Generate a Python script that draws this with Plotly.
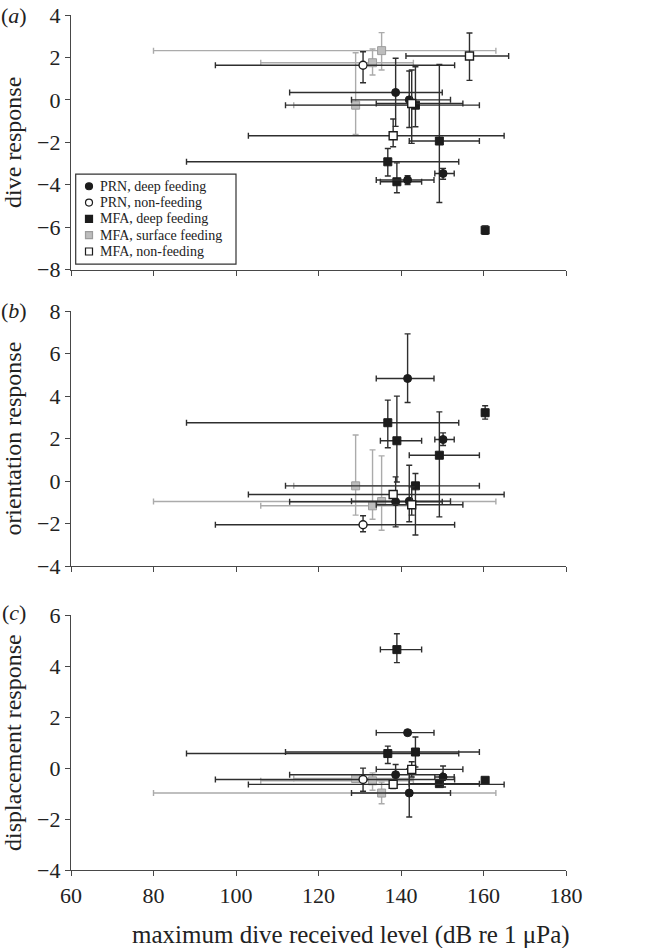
import plotly.graph_objects as go

# ---------------- data ----------------
# x = maximum dive received level, with range (lo / hi)
# PRN, deep feeding (black circles)
prn_deep_x = [141.6, 150.2, 138.7, 142.0]
prn_deep_x_lo = [134.0, 148.2, 113.0, 128.0]
prn_deep_x_hi = [148.0, 152.9, 150.0, 152.0]
prn_deep_dive = [-3.78, -3.47, 0.35, 0.0]
prn_deep_dive_lo = [-3.99, -3.74, -1.25, -1.30]
prn_deep_dive_hi = [-3.58, -3.23, 1.96, 1.36]
prn_deep_orient = [4.83, 1.96, -0.97, -0.94]
prn_deep_orient_lo = [3.70, 1.68, -2.15, -1.91]
prn_deep_orient_hi = [6.93, 2.27, 0.20, 0.75]
prn_deep_disp = [1.39, -0.35, -0.26, -0.98]
prn_deep_disp_lo = [1.34, -0.74, -0.65, -1.92]
prn_deep_disp_hi = [1.44, 0.08, 0.14, -0.02]

# PRN, non-feeding (open circle)
prn_non_x = [130.8]
prn_non_x_lo = [95.0]
prn_non_x_hi = [153.0]
prn_non_dive = [1.63]
prn_non_dive_lo = [0.81]
prn_non_dive_hi = [2.27]
prn_non_orient = [-2.05]
prn_non_orient_lo = [-2.38]
prn_non_orient_hi = [-1.63]
prn_non_disp = [-0.45]
prn_non_disp_lo = [-0.91]
prn_non_disp_hi = [0.0]

# MFA, deep feeding (black squares)
mfa_deep_x = [136.8, 143.5, 139.0, 160.4, 149.3]
mfa_deep_x_lo = [88.0, 112.0, 135.0, 159.7, 142.0]
mfa_deep_x_hi = [154.0, 159.0, 145.0, 161.1, 159.0]
mfa_deep_dive = [-2.92, -0.25, -3.86, -6.14, -1.94]
mfa_deep_dive_lo = [-3.59, -1.27, -4.38, -6.34, -4.84]
mfa_deep_dive_hi = [-2.29, 1.56, -2.97, -5.94, 1.67]
mfa_deep_orient = [2.75, -0.22, 1.90, 3.22, 1.22]
mfa_deep_orient_lo = [1.57, -2.53, -0.04, 2.92, -1.68]
mfa_deep_orient_hi = [3.81, 0.36, 4.00, 3.55, 3.26]
mfa_deep_disp = [0.57, 0.63, 4.65, -0.48, -0.61]
mfa_deep_disp_lo = [0.18, 0.04, 4.14, -0.58, -0.71]
mfa_deep_disp_hi = [0.86, 1.22, 5.27, -0.38, -0.51]

# MFA, surface feeding (grey squares)
mfa_surf_x = [135.3, 133.1, 129.0]
mfa_surf_x_lo = [80.0, 106.0, 114.0]
mfa_surf_x_hi = [163.0, 143.0, 143.0]
mfa_surf_dive = [2.32, 1.75, -0.25]
mfa_surf_dive_lo = [1.41, 1.17, -1.63]
mfa_surf_dive_hi = [3.17, 2.40, 2.22]
mfa_surf_orient = [-0.96, -1.16, -0.22]
mfa_surf_orient_lo = [-2.31, -1.79, -1.60]
mfa_surf_orient_hi = [1.19, 1.47, 2.17]
mfa_surf_disp = [-0.98, -0.50, -0.41]
mfa_surf_disp_lo = [-1.40, -0.87, -0.52]
mfa_surf_disp_hi = [-0.55, -0.19, -0.30]

# MFA, non-feeding (open squares)
mfa_non_x = [156.6, 138.1, 142.6]
mfa_non_x_lo = [141.2, 103.0, 134.0]
mfa_non_x_hi = [166.1, 165.0, 155.0]
mfa_non_dive = [2.07, -1.69, -0.17]
mfa_non_dive_lo = [0.92, -2.21, -2.05]
mfa_non_dive_hi = [3.15, -0.90, 1.41]
mfa_non_orient = [None, -0.63, -1.11]
mfa_non_orient_lo = [None, -0.80, -1.60]
mfa_non_orient_hi = [None, -0.45, -0.27]
mfa_non_disp = [None, -0.64, -0.05]
mfa_non_disp_lo = [None, -0.80, -0.35]
mfa_non_disp_hi = [None, -0.48, 0.25]

legend_labels = ["PRN, deep feeding", "PRN, non-feeding", "MFA, deep feeding",
                 "MFA, surface feeding", "MFA, non-feeding"]
panel_titles = ["dive response", "orientation response", "displacement response"]
x_title = "maximum dive received level (dB re 1 μPa)"
panel_tags = ["a", "b", "c"]
x_ticks = [60, 80, 100, 120, 140, 160, 180]
y_ticks = [[-8, -6, -4, -2, 0, 2, 4], [-4, -2, 0, 2, 4, 6, 8], [-4, -2, 0, 2, 4, 6]]

# ---------------- styling ----------------
W, H = 649, 948
ML, MR, MT, MB = 71, 83, 15, 78.3
PW, PH = W - ML - MR, H - MT - MB
FONT = "Liberation Serif, Times New Roman, Tinos, serif"
BLACK = "#1c1c1c"
EBLACK = "#2e2e2e"
GREY_FILL = "#bdbdbd"
GREY_LINE = "#9c9c9c"
EGREY = "#ababab"
AXC = "#474747"
TXT = "#222"

def px_x(p):
    return (p - ML) / PW

def px_y(p):
    return (H - MB - p) / PH

domains = [[px_y(269.5), 1.0], [px_y(566), px_y(311)], [0.0, px_y(615)]]
ranges = [[-8, 4], [-4, 8], [-4, 6]]

styles = {
    "prn_deep": dict(marker=dict(symbol="circle", size=8, color=BLACK, line=dict(color=BLACK, width=1)), ec=EBLACK),
    "prn_non": dict(marker=dict(symbol="circle", size=8, color="white", line=dict(color=BLACK, width=1.4)), ec=EBLACK),
    "mfa_deep": dict(marker=dict(symbol="square", size=8, color=BLACK, line=dict(color=BLACK, width=1)), ec=EBLACK),
    "mfa_surf": dict(marker=dict(symbol="square", size=8, color=GREY_FILL, line=dict(color=GREY_LINE, width=1)), ec=EGREY),
    "mfa_non": dict(marker=dict(symbol="square", size=8, color="white", line=dict(color=BLACK, width=1.4)), ec=EBLACK),
}

groups = [
    ("mfa_surf", legend_labels[3], mfa_surf_x, mfa_surf_x_lo, mfa_surf_x_hi,
     [(mfa_surf_dive, mfa_surf_dive_lo, mfa_surf_dive_hi),
      (mfa_surf_orient, mfa_surf_orient_lo, mfa_surf_orient_hi),
      (mfa_surf_disp, mfa_surf_disp_lo, mfa_surf_disp_hi)]),
    ("mfa_deep", legend_labels[2], mfa_deep_x, mfa_deep_x_lo, mfa_deep_x_hi,
     [(mfa_deep_dive, mfa_deep_dive_lo, mfa_deep_dive_hi),
      (mfa_deep_orient, mfa_deep_orient_lo, mfa_deep_orient_hi),
      (mfa_deep_disp, mfa_deep_disp_lo, mfa_deep_disp_hi)]),
    ("prn_deep", legend_labels[0], prn_deep_x, prn_deep_x_lo, prn_deep_x_hi,
     [(prn_deep_dive, prn_deep_dive_lo, prn_deep_dive_hi),
      (prn_deep_orient, prn_deep_orient_lo, prn_deep_orient_hi),
      (prn_deep_disp, prn_deep_disp_lo, prn_deep_disp_hi)]),
    ("mfa_non", legend_labels[4], mfa_non_x, mfa_non_x_lo, mfa_non_x_hi,
     [(mfa_non_dive, mfa_non_dive_lo, mfa_non_dive_hi),
      (mfa_non_orient, mfa_non_orient_lo, mfa_non_orient_hi),
      (mfa_non_disp, mfa_non_disp_lo, mfa_non_disp_hi)]),
    ("prn_non", legend_labels[1], prn_non_x, prn_non_x_lo, prn_non_x_hi,
     [(prn_non_dive, prn_non_dive_lo, prn_non_dive_hi),
      (prn_non_orient, prn_non_orient_lo, prn_non_orient_hi),
      (prn_non_disp, prn_non_disp_lo, prn_non_disp_hi)]),
]

fig = go.Figure()

for key, label, xs, xlo, xhi, panels in groups:
    st = styles[key]
    for pi, (ys, ylo, yhi) in enumerate(panels):
        px_, py_, exp, exm, eyp, eym = [], [], [], [], [], []
        for i in range(len(xs)):
            if ys[i] is None:
                continue
            px_.append(xs[i]); py_.append(ys[i])
            exp.append(xhi[i] - xs[i]); exm.append(xs[i] - xlo[i])
            eyp.append(yhi[i] - ys[i]); eym.append(ys[i] - ylo[i])
        sfx = "" if pi == 0 else str(pi + 1)
        fig.add_trace(go.Scatter(
            x=px_, y=py_, mode="markers", name=label, showlegend=False,
            marker=st["marker"],
            error_x=dict(type="data", symmetric=False, array=exp, arrayminus=exm,
                         color=st["ec"], thickness=1.4, width=3),
            error_y=dict(type="data", symmetric=False, array=eyp, arrayminus=eym,
                         color=st["ec"], thickness=1.4, width=3),
            xaxis="x" + sfx, yaxis="y" + sfx,
        ))

axis_common = dict(showgrid=False, zeroline=False, showline=True, linecolor=AXC,
                   linewidth=1.3, ticks="outside", ticklen=5, tickwidth=1.3,
                   tickcolor=AXC, mirror=False, automargin=False,
                   tickfont=dict(family=FONT, size=22, color=TXT))

layout = dict(
    width=W, height=H, margin=dict(l=ML, r=MR, t=MT, b=MB),
    plot_bgcolor="white", paper_bgcolor="white",
    font=dict(family=FONT, size=22, color=TXT), showlegend=False,
)
for pi in range(3):
    sfx = "" if pi == 0 else str(pi + 1)
    xa = dict(axis_common, range=[60, 180], tickvals=x_ticks, domain=[0, 1],
              anchor="y" + sfx, showticklabels=(pi == 2))
    ya = dict(axis_common, range=ranges[pi], tickvals=y_ticks[pi], domain=domains[pi],
              anchor="x" + sfx,
              title=dict(text=panel_titles[pi], font=dict(family=FONT, size=24, color=TXT),
                         standoff=8))
    layout["xaxis" + sfx] = xa
    layout["yaxis" + sfx] = ya

fig.update_layout(**layout)

# x-axis title (placed as in the reference, slightly right of centre)
fig.add_annotation(text=x_title, xref="paper", yref="paper",
                   x=px_x(351), y=px_y(935), xanchor="center", yanchor="middle",
                   showarrow=False, font=dict(family=FONT, size=25, color=TXT))

# panel tags
tag_y = [15, 310, 612]
for tag, ty in zip(panel_tags, tag_y):
    fig.add_annotation(text="(<i>%s</i>)" % tag, xref="paper", yref="paper",
                       x=px_x(13.5), y=px_y(ty), xanchor="center", yanchor="middle",
                       showarrow=False, borderpad=0,
                       font=dict(family=FONT, size=22, color=TXT))

# legend box (panel a)
fig.add_shape(type="rect", xref="paper", yref="paper",
              x0=px_x(75.7), x1=px_x(236), y0=px_y(264), y1=px_y(174),
              line=dict(color="#333", width=1.2), fillcolor="white", layer="above")
row_y = [186.2, 202.5, 218.8, 235.1, 251.4]
leg_keys = ["prn_deep", "prn_non", "mfa_deep", "mfa_surf", "mfa_non"]
for lbl, key, ry in zip(legend_labels, leg_keys, row_y):
    mk = styles[key]["marker"]
    shape_type = "circle" if mk["symbol"] == "circle" else "rect"
    fig.add_shape(type=shape_type, xref="paper", yref="paper",
                  xsizemode="pixel", ysizemode="pixel",
                  xanchor=px_x(89), yanchor=px_y(ry),
                  x0=-3.5, x1=3.5, y0=-3.5, y1=3.5,
                  fillcolor=mk["color"], line=dict(color=mk["line"]["color"], width=1.2),
                  layer="above")
    fig.add_annotation(text=lbl, xref="paper", yref="paper", x=px_x(99), y=px_y(ry),
                       xanchor="left", yanchor="middle", showarrow=False,
                       borderpad=0, font=dict(family=FONT, size=14, color=TXT))

fig.write_html("out.html", config={"displayModeBar": False},
               post_script="document.body.style.margin='0';document.body.style.overflow='hidden';")
